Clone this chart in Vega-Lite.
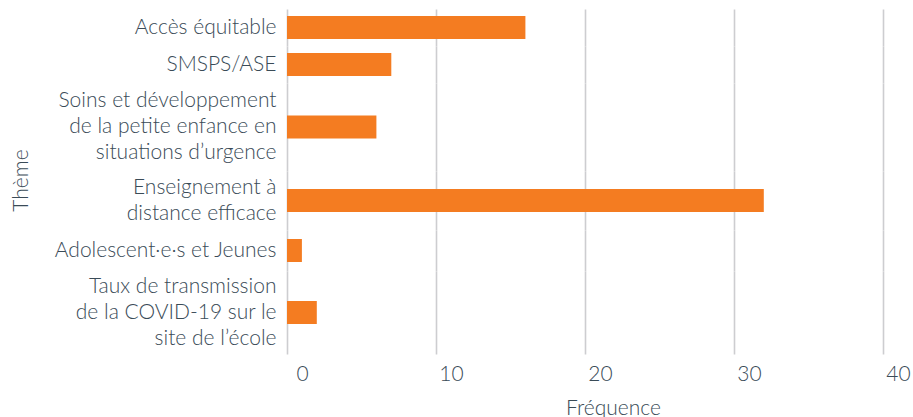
{
  "$schema": "https://vega.github.io/schema/vega-lite/v6.json",
  "autosize": {"type": "pad"},
  "padding": {"left": 10, "top": 9, "right": 0, "bottom": 0},
  "background": "white",
  "spacing": 0,
  "bounds": "flush",
  "config": {
    "view": {"stroke": null},
    "font": "Lato",
    "bar": {"color": "#f47c21", "size": 23},
    "axis": {
      "labelFont": "Lato",
      "labelFontSize": 21,
      "labelFontWeight": 300,
      "labelColor": "#3a4b57",
      "titleFont": "Lato",
      "titleFontSize": 21,
      "titleFontWeight": 300,
      "titleColor": "#3a4b57",
      "ticks": false,
      "domain": false
    },
    "axisY": {
      "labelPadding": 11,
      "labelLineHeight": 26,
      "labelLimit": 300,
      "grid": false
    },
    "axisX": {
      "grid": true,
      "gridColor": "#cdcdd0",
      "gridWidth": 1.6,
      "labelFlush": false
    }
  },
  "data": {
    "values": [
      {"theme": ["Accès équitable"], "key": "a", "freq": 16},
      {"theme": ["SMSPS/ASE"], "key": "b", "freq": 7},
      {"theme": ["Soins et développement", "de la petite enfance en", "situations d’urgence"], "key": "c", "freq": 6},
      {"theme": ["Enseignement à", "distance efficace"], "key": "d", "freq": 32},
      {"theme": ["Adolescent·e·s et Jeunes"], "key": "e", "freq": 1},
      {"theme": ["Taux de transmission", "de la COVID-19 sur le", "site de l’école"], "key": "f", "freq": 2}
    ]
  },
  "vconcat": [
    {
      "width": 596, "height": 37,
      "transform": [{"filter": "datum.key === 'a'"}],
      "mark": "bar",
      "encoding": {
        "y": {"field": "theme", "type": "nominal", "axis": {"title": null}},
        "x": {"field": "freq", "type": "quantitative", "scale": {"domain": [0, 40]},
              "axis": {"title": null, "labels": false, "values": [0, 10, 20, 30, 40]}}
      }
    },
    {
      "width": 596, "height": 37,
      "transform": [{"filter": "datum.key === 'b'"}],
      "mark": "bar",
      "encoding": {
        "y": {"field": "theme", "type": "nominal", "axis": {"title": null}},
        "x": {"field": "freq", "type": "quantitative", "scale": {"domain": [0, 40]},
              "axis": {"title": null, "labels": false, "values": [0, 10, 20, 30, 40]}}
      }
    },
    {
      "width": 596, "height": 88,
      "transform": [{"filter": "datum.key === 'c'"}],
      "mark": "bar",
      "encoding": {
        "y": {"field": "theme", "type": "nominal", "axis": {"title": null, "labelOffset": -26}},
        "x": {"field": "freq", "type": "quantitative", "scale": {"domain": [0, 40]},
              "axis": {"title": null, "labels": false, "values": [0, 10, 20, 30, 40]}}
      }
    },
    {
      "width": 596, "height": 59,
      "transform": [{"filter": "datum.key === 'd'"}],
      "mark": "bar",
      "encoding": {
        "y": {"field": "theme", "type": "nominal",
              "axis": {"title": "Thème", "labelOffset": -13, "titleAngle": -90, "titleX": -266, "titleY": 9, "titleBaseline": "middle"}},
        "x": {"field": "freq", "type": "quantitative", "scale": {"domain": [0, 40]},
              "axis": {"title": null, "labels": false, "values": [0, 10, 20, 30, 40]}}
      }
    },
    {
      "width": 596, "height": 41,
      "transform": [{"filter": "datum.key === 'e'"}],
      "mark": "bar",
      "encoding": {
        "y": {"field": "theme", "type": "nominal", "axis": {"title": null}},
        "x": {"field": "freq", "type": "quantitative", "scale": {"domain": [0, 40]},
              "axis": {"title": null, "labels": false, "values": [0, 10, 20, 30, 40]}}
      }
    },
    {
      "width": 596, "height": 83,
      "transform": [{"filter": "datum.key === 'f'"}],
      "mark": "bar",
      "encoding": {
        "y": {"field": "theme", "type": "nominal", "axis": {"title": null, "labelOffset": -26}},
        "x": {"field": "freq", "type": "quantitative", "scale": {"domain": [0, 40]},
              "axis": {"title": "Fréquence", "values": [0, 10, 20, 30, 40],
                       "labelOffset": 15, "labelPadding": 9,
                       "titleX": 326, "titleY": 54, "titleBaseline": "middle"}}
      }
    }
  ]
}
